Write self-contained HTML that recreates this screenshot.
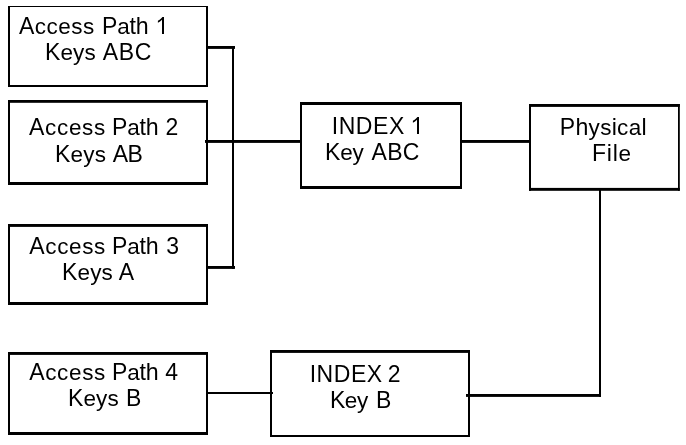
<!DOCTYPE html>
<html><head><meta charset="utf-8"><style>html,body{margin:0;padding:0;background:#fff;width:686px;height:445px;overflow:hidden}svg{display:block;will-change:transform}text{font-family:"Liberation Sans",sans-serif;font-size:23px;fill:#000}</style></head><body>
<svg width="686" height="445" viewBox="0 0 686 445">
<rect x="8" y="6" width="200" height="1"/>
<rect x="8" y="85" width="200" height="2"/>
<rect x="8" y="6" width="2" height="81"/>
<rect x="206" y="6" width="2" height="81"/>
<rect x="8" y="100" width="200" height="2.8"/>
<rect x="8" y="182" width="200" height="3"/>
<rect x="8" y="100" width="2" height="85"/>
<rect x="206" y="100" width="2" height="85"/>
<rect x="8" y="224" width="200" height="2.9"/>
<rect x="8" y="302" width="200" height="3"/>
<rect x="8" y="224" width="2" height="81"/>
<rect x="206" y="224" width="2" height="81"/>
<rect x="8" y="352" width="200" height="2.9"/>
<rect x="8" y="432" width="200" height="3"/>
<rect x="8" y="352" width="2" height="83"/>
<rect x="206" y="352" width="2" height="83"/>
<rect x="300" y="102" width="162" height="3"/>
<rect x="300" y="186" width="162" height="3"/>
<rect x="300" y="102" width="2" height="87"/>
<rect x="460" y="102" width="2" height="87"/>
<rect x="529" y="104" width="150.8" height="2.9"/>
<rect x="529" y="187.9" width="150.8" height="2.9"/>
<rect x="529" y="104" width="2" height="86.8"/>
<rect x="678" y="104" width="1.8" height="86.8"/>
<rect x="270" y="350" width="200" height="2.9"/>
<rect x="270" y="435" width="200" height="2"/>
<rect x="270" y="350" width="2" height="87"/>
<rect x="468" y="350" width="2" height="87"/>
<rect x="206" y="46" width="29" height="2.9"/>
<rect x="232" y="46" width="2" height="222.9"/>
<rect x="206" y="266" width="29" height="2.9"/>
<rect x="205" y="140" width="95" height="2.9"/>
<rect x="462" y="140" width="67" height="2.9"/>
<rect x="599" y="190" width="2" height="206.9"/>
<rect x="466" y="394" width="135" height="2.9"/>
<rect x="208" y="392" width="65" height="2"/>
<text x="19.04" y="34" letter-spacing="0.48">A<tspan font-size="22.5">ccess</tspan></text>
<text x="102.01" y="34" letter-spacing="-0.18">P<tspan font-size="22.5">a</tspan><tspan font-size="23.2">th</tspan></text>
<text x="45.01" y="60" letter-spacing="0.10">K<tspan font-size="22.5">eys</tspan></text>
<text x="102.64" y="60" letter-spacing="0.75">ABC</text>
<text x="29.04" y="135" letter-spacing="0.68">A<tspan font-size="22.5">ccess</tspan></text>
<text x="112.01" y="135" letter-spacing="-0.18">P<tspan font-size="22.5">a</tspan><tspan font-size="23.2">th</tspan></text>
<text x="165.52" y="135">2</text>
<text x="55.01" y="162" letter-spacing="0.20">K<tspan font-size="22.5">eys</tspan></text>
<text x="112.64" y="162" letter-spacing="-0.55">AB</text>
<text x="29.34" y="254" letter-spacing="0.62">A<tspan font-size="22.5">ccess</tspan></text>
<text x="112.01" y="254" letter-spacing="-0.18">P<tspan font-size="22.5">a</tspan><tspan font-size="23.2">th</tspan></text>
<text x="166.13" y="254">3</text>
<text x="62.01" y="280" letter-spacing="0.17">K<tspan font-size="22.5">eys</tspan></text>
<text x="118.64" y="280">A</text>
<text x="29.14" y="380" letter-spacing="0.66">A<tspan font-size="22.5">ccess</tspan></text>
<text x="112.01" y="380" letter-spacing="-0.18">P<tspan font-size="22.5">a</tspan><tspan font-size="23.2">th</tspan></text>
<text x="165.16" y="380">4</text>
<text x="68.01" y="406" letter-spacing="0.10">K<tspan font-size="22.5">eys</tspan></text>
<text x="126.11" y="406">B</text>
<text x="331.65" y="134" letter-spacing="0.61">INDEX</text>
<text x="324.91" y="160" letter-spacing="-0.08">K<tspan font-size="22.5">ey</tspan></text>
<text x="371.44" y="160" letter-spacing="0.35">ABC</text>
<text x="559.81" y="135" letter-spacing="0.28">P<tspan font-size="23.2">h</tspan><tspan font-size="22.5">ys</tspan><tspan font-size="23.2">i</tspan><tspan font-size="22.5">ca</tspan><tspan font-size="23.2">l</tspan></text>
<text x="591.91" y="161" letter-spacing="0.76">F<tspan font-size="23.2">il</tspan><tspan font-size="22.5">e</tspan></text>
<text x="309.65" y="382" letter-spacing="0.56">INDEX</text>
<text x="387.82" y="382">2</text>
<text x="329.91" y="408" letter-spacing="-0.43">K<tspan font-size="22.5">ey</tspan></text>
<text x="376.01" y="408">B</text>
<path d="M164 17 V34 H162 V19.8 C160.8 21 159.4 22 157.9 22.7 V20.7 C159.8 19.7 161.4 18.4 162.4 17 Z"/>
<path d="M419 117 V134 H417 V119.8 C415.8 121 414.4 122 412.9 122.7 V120.7 C414.8 119.7 416.4 118.4 417.4 117 Z"/>
</svg></body></html>
